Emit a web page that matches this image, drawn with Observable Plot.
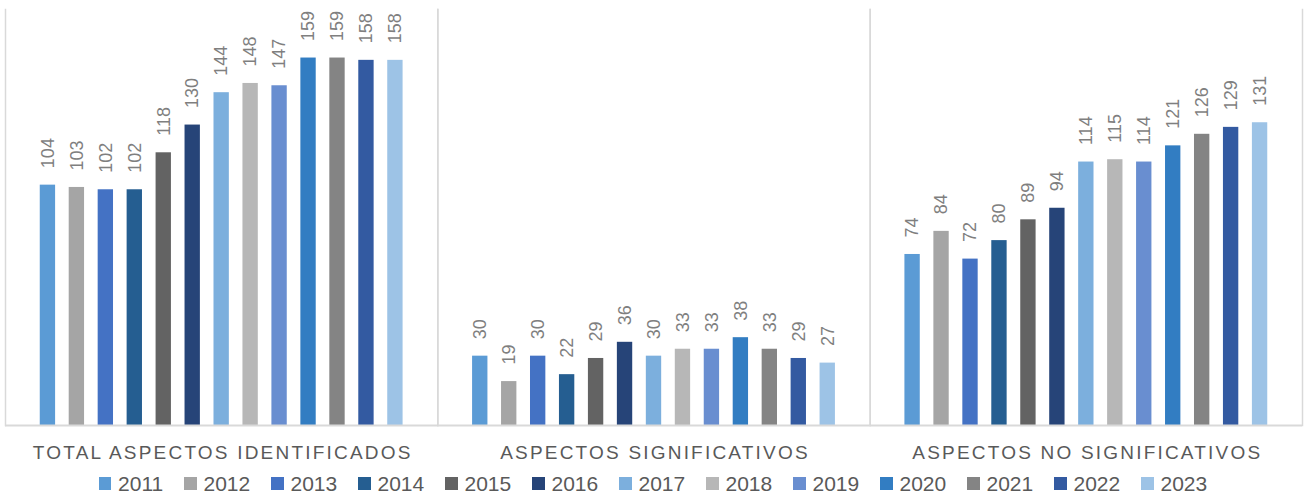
<!DOCTYPE html>
<html><head><meta charset="utf-8">
<script src="https://cdn.jsdelivr.net/npm/d3@7"></script>
<script src="https://cdn.jsdelivr.net/npm/@observablehq/plot@0.6"></script>
<style>
html,body{margin:0;padding:0;background:#fff;}
body{width:1306px;height:498px;overflow:hidden;font-family:"Liberation Sans",Arial,sans-serif;}
#chart svg{display:block;}
g[aria-label="fx-axis tick label"] text{letter-spacing:2.2px;}
#legend{box-sizing:border-box;height:33px;padding-top:4px;display:flex;justify-content:center;align-items:center;color:#595959;font-size:21px;}
#legend .item{display:flex;align-items:center;margin:0 10.5px;}
#legend .sw{width:12.7px;height:12.7px;margin-right:6.6px;}
</style></head><body><div id="chart"></div><div id="legend"></div>
<script>
const categories = ["TOTAL ASPECTOS IDENTIFICADOS", "ASPECTOS SIGNIFICATIVOS", "ASPECTOS NO SIGNIFICATIVOS"];
const years = ["2011","2012","2013","2014","2015","2016","2017","2018","2019","2020","2021","2022","2023"];
const totalValues = [104,103,102,102,118,130,144,148,147,159,159,158,158];
const significativosValues = [30,19,30,22,29,36,30,33,33,38,33,29,27];
const noSignificativosValues = [74,84,72,80,89,94,114,115,114,121,126,129,131];
const yearColors = ["#5b9bd5","#a5a5a5","#4472c4","#255e91","#636363","#264478","#7cafdd","#b7b7b7","#698ed0","#327dc2","#848484","#335aa1","#9dc3e6"];

const series = [totalValues, significativosValues, noSignificativosValues];
const data = [];
categories.forEach((c, ci) => years.forEach((yr, yi) => data.push({category: c, year: yr, value: series[ci][yi]})));

const chart = Plot.plot({
  width: 1306,
  height: 465,
  marginLeft: 5,
  marginRight: 4,
  marginTop: 9,
  marginBottom: 40,
  style: {fontFamily: '"Liberation Sans", Arial, sans-serif', background: "#fff"},
  fx: {domain: categories, padding: 0, label: null, round: false},
  x: {domain: years, paddingInner: 0.47, paddingOuter: 1.2, round: false, axis: null},
  y: {domain: [0, 180], axis: null},
  color: {domain: years, range: yearColors},
  marks: [
    Plot.frame({anchor: "left", stroke: "#d9d9d9", strokeWidth: 1.5}),
    Plot.frame({anchor: "right", stroke: "#d9d9d9", strokeWidth: 1.5}),
    Plot.barY(data, {fx: "category", x: "year", y: "value", fill: "year"}),
    Plot.ruleY([0], {stroke: "#d9d9d9", strokeWidth: 2}),
    Plot.text(data, {fx: "category", x: "year", y: "value", text: d => String(d.value), rotate: -90, textAnchor: "start", lineAnchor: "middle", dy: -17, fontSize: 18, fill: "#7f7f7f"}),
    Plot.axisFx({anchor: "bottom", tickSize: 0, tickPadding: 20, fontSize: 19, fill: "#595959", label: null, dx: 1})
  ]
});
document.getElementById("chart").appendChild(chart);

const legend = document.getElementById("legend");
years.forEach((yr, i) => {
  const item = document.createElement("div");
  item.className = "item";
  const sw = document.createElement("span");
  sw.className = "sw";
  sw.style.background = yearColors[i];
  const t = document.createElement("span");
  t.textContent = yr;
  item.appendChild(sw); item.appendChild(t);
  legend.appendChild(item);
});
</script>
</body></html>
